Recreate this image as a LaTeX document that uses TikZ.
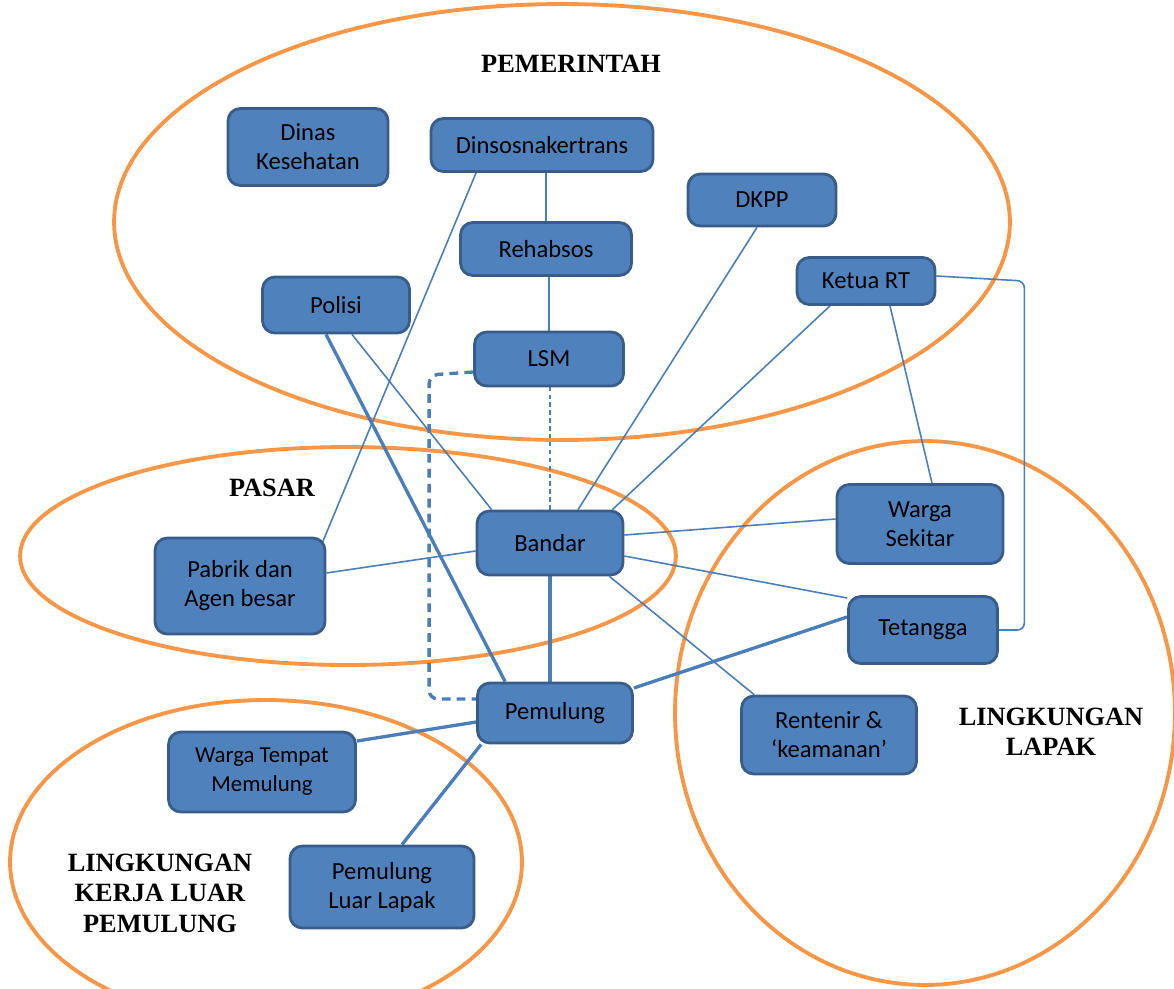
\documentclass[tikz,border=0pt]{standalone}
\usepackage{fontspec}
\setmainfont{Carlito}
\newfontfamily\ringfont{Liberation Serif}
\usepackage{xcolor}
\usepackage{tikz}
\usetikzlibrary{calc, backgrounds}
\definecolor{boxblue}{HTML}{4F81BD}
\definecolor{boxedge}{HTML}{385D8A}
\definecolor{linkblue}{HTML}{4A7EBB}
\definecolor{ringorange}{HTML}{F79646}

\begin{document}
\begin{tikzpicture}[x=0.02cm, y=-0.02cm,
  actor/.style={draw=boxedge, fill=boxblue, line width=1.6pt,
    rounded corners=7pt, align=center, inner sep=2pt,
    font=\fontsize{14}{16.5}\selectfont},
  ring/.style={draw=ringorange, line width=2.2pt},
  ringlabel/.style={font=\ringfont\bfseries\fontsize{15}{17.3}\selectfont,
    align=center},
  link/.style={draw=linkblue, line width=0.9pt},
  strong/.style={draw=linkblue, line width=1.9pt}]
  \useasboundingbox (0,0) rectangle (1174,988);

  %--- Pemerintah ---
  \node[actor, minimum width=3.2cm, minimum height=1.54cm] (dinas) at (308,147) {Dinas\\Kesehatan};
  \node[actor, minimum width=4.44cm, minimum height=1.06cm] (dinsos) at (542,145) {Dinsosnakertrans};
  \node[actor, minimum width=2.96cm, minimum height=1.04cm] (dkpp) at (762,200) {DKPP};
  \node[actor, minimum width=3.42cm, minimum height=1.06cm] (rehab) at (546,249) {Rehabsos};
  \node[actor, minimum width=2.94cm, minimum height=1.12cm] (polisi) at (336,305) {Polisi};
  \node[actor, minimum width=2.76cm, minimum height=0.94cm] (ketua) at (866,281) {Ketua RT};
  \node[actor, minimum width=2.98cm, minimum height=1.08cm] (lsm) at (549,359) {LSM};

  %--- Pasar ---
  \node[actor, minimum width=2.92cm, minimum height=1.28cm] (bandar) at (550,543) {Bandar};
  \node[actor, minimum width=3.4cm, minimum height=1.92cm] (pabrik) at (240,586) {Pabrik dan\\Agen besar};

  %--- Lingkungan lapak ---
  \node[actor, minimum width=3.32cm, minimum height=1.58cm] (wsekitar) at (920,524) {Warga\\Sekitar};
  \node[actor, minimum width=2.98cm, minimum height=1.34cm] (tetangga) at (923,630) {Tetangga};
  \node[actor, minimum width=3.5cm, minimum height=1.56cm] (rentenir) at (829,735) {Rentenir \&\\`keamanan'};

  %--- Lingkungan kerja luar ---
  \node[actor, minimum width=3.1cm, minimum height=1.2cm] (pemulung) at (555,713) {Pemulung};
  \node[actor, minimum width=3.74cm, minimum height=1.6cm, font=\fontsize{13}{16.5}\selectfont] (wtempat) at (262,772) {Warga Tempat\\Memulung};
  \node[actor, minimum width=3.68cm, minimum height=1.64cm] (pluar) at (382,887) {Pemulung\\Luar Lapak};

  %--- group labels ---
  \node[ringlabel] (lpemerintah) at (571,64) {PEMERINTAH};
  \node[ringlabel] (lpasar) at (272,488) {PASAR};
  \node[ringlabel] (llapak) at (1051,732) {LINGKUNGAN\\LAPAK};
  \node[ringlabel] (lluar) at (160,893) {LINGKUNGAN\\KERJA LUAR\\PEMULUNG};

  \begin{scope}[on background layer]
    %--- rings ---
    \draw[ring] (562,222) ellipse [x radius=8.96cm, y radius=4.36cm];
    \draw[ring] (348,556) ellipse [x radius=6.56cm, y radius=2.18cm];
    \draw[ring] (925,713) ellipse [x radius=5.0cm, y radius=5.44cm];
    \draw[ring] (266,862) ellipse [x radius=5.12cm, y radius=3.24cm];

    %--- links ---
    \draw[link] (rehab.north) -- (rehab.north |- dinsos.south);
    \draw[link] (lsm.north) -- (lsm.north |- rehab.south);
    \draw[link, dash pattern=on 2.5pt off 2pt] (bandar.north) -- (bandar.north |- lsm.south);
    \draw[link] ($(dinsos.south)+(-66,0)$) -- ($(pabrik.north east)+(-4,6)$);
    \draw[link] ($(polisi.south)+(16,0)$) -- ($(bandar.north west)+(16,0)$);
    \draw[strong] ($(polisi.south)+(-10,0)$) -- ($(pemulung.north west)+(29,0)$);
    \draw[link] ($(dkpp.south)+(-5,0)$) -- ($(bandar.north)+(28,0)$);
    \draw[link] ($(ketua.south)+(-36,0)$) -- ($(bandar.north east)+(-12,0)$);
    \draw[link] ($(ketua.south)+(24,0)$) -- ($(wsekitar.north)+(12,0)$);
    \draw[link, rounded corners=4pt] ($(ketua.east)+(0,-5)$) -- ++(88,5) |- (tetangga.east);
    \draw[link] ($(bandar.east)+(0,-8)$) -- ($(wsekitar.west)+(0,-5)$);
    \draw[link] ($(bandar.east)+(0,13)$) -- ($(tetangga.west)+(0,-32)$);
    \draw[link] ($(bandar.south east)+(-15,0)$) -- ($(rentenir.north west)+(14,0)$);
    \draw[link] ($(pabrik.east)+(0,-13)$) -- ($(bandar.west)+(0,8)$);
    \draw[strong] (bandar.south) -- (bandar.south |- pemulung.north);
    \draw[strong] ($(pemulung.east)+(0,-25)$) -- ($(tetangga.west)+(0,-13)$);
    \draw[strong] ($(pemulung.west)+(0,9)$) -- ($(wtempat.east)+(0,-31)$);
    \draw[strong] ($(pemulung.south west)+(5,0)$) -- ($(pluar.north)+(20,0)$);
    \draw[strong, dash pattern=on 5pt off 3.5pt, rounded corners=5pt]
      ($(lsm.west)+(0,13)$) -- ++(-44,3) |- ($(pemulung.west)+(0,-14)$);
  \end{scope}
\end{tikzpicture}
\end{document}
